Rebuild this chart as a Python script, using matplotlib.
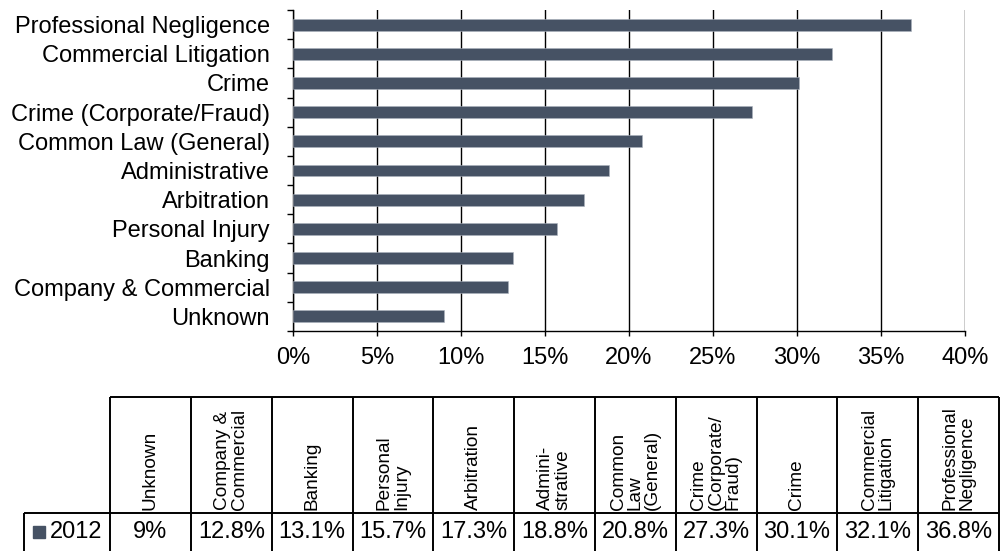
import matplotlib
matplotlib.use("Agg")
import matplotlib.pyplot as plt
import numpy as np

plt.rcParams['font.family'] = ['Liberation Sans', 'DejaVu Sans']

categories = ["Unknown", "Company & Commercial", "Banking", "Personal Injury",
              "Arbitration", "Administrative", "Common Law (General)",
              "Crime (Corporate/Fraud)", "Crime", "Commercial Litigation",
              "Professional Negligence"]
values = [9.0, 12.8, 13.1, 15.7, 17.3, 18.8, 20.8, 27.3, 30.1, 32.1, 36.8]
table_headers = ["Unknown", "Company &\nCommercial", "Banking", "Personal\nInjury",
                 "Arbitration", "Admini-\nstrative", "Common\nLaw\n(General)",
                 "Crime\n(Corporate/\nFraud)", "Crime", "Commercial\nLitigation",
                 "Professional\nNegligence"]
table_values = ["9%", "12.8%", "13.1%", "15.7%", "17.3%", "18.8%", "20.8%",
                "27.3%", "30.1%", "32.1%", "36.8%"]
series_name = "2012"
x_ticks = [0, 5, 10, 15, 20, 25, 30, 35, 40]

BAR = '#465264'
W, H = 1005, 551
fig = plt.figure(figsize=(W / 100, H / 100), dpi=100)

# ---- bar chart ----
ax = fig.add_axes([293 / W, (H - 331) / H, 672 / W, 321 / H])
y = np.arange(len(categories))
ax.barh(y, values, height=0.41, color=BAR, edgecolor='#aab1bd', linewidth=0.4, zorder=3)
ax.set_xlim(0, 40)
ax.set_ylim(-0.5, len(categories) - 0.5)
ax.set_xticks(x_ticks)
ax.set_xticklabels([f"{t}%" for t in x_ticks], fontsize=17)
ax.set_yticks(np.arange(len(categories) + 1) - 0.5)
ax.set_yticklabels([])
ax.set_yticks(y, minor=True)
ax.set_yticklabels(categories, minor=True, fontsize=17)
ax.tick_params(axis='y', which='major', direction='out', length=4.5, width=1, color='black')
ax.tick_params(axis='y', which='minor', length=0, pad=16.5)
ax.tick_params(axis='x', direction='out', length=3.6, width=1, color='black', pad=8)
ax.grid(axis='x', color='black', linewidth=1.0, zorder=1)
for s in ['top', 'right']:
    ax.spines[s].set_visible(False)
ax.spines['left'].set_linewidth(1.0)
ax.spines['bottom'].set_linewidth(1.0)

# ---- data table ----
label_w = 86 / 80.73
hdr_h = 116 / 38
tab = fig.add_axes([24 / W, 0, 975 / W, 154 / H])
tab.set_xlim(-label_w, len(categories))
tab.set_ylim(0, 1 + hdr_h)
tab.axis('off')
n = len(categories)
lw = 1.4
tab.hlines(1 + hdr_h, 0, n, color='black', lw=lw, clip_on=False)
tab.hlines(1, -label_w, n, color='black', lw=lw, clip_on=False)
tab.vlines(np.arange(n + 1), 0, 1 + hdr_h, color='black', lw=lw, clip_on=False)
tab.vlines(-label_w, 0, 1, color='black', lw=lw, clip_on=False)
for i, (h, v) in enumerate(zip(table_headers, table_values)):
    tab.text(i + 0.5, 1.07, h, rotation=90, ha='center', va='bottom',
             multialignment='left', fontsize=13.7, linespacing=1.02)
    tab.text(i + 0.5, 0.5, v, ha='center', va='center', fontsize=17)
tab.plot([-label_w + 14.5 / 80.73], [0.5], marker='s', ms=9, color=BAR, clip_on=False)
tab.text(-label_w + 26 / 80.73, 0.5, series_name, ha='left', va='center', fontsize=17)

fig.savefig("out.png", dpi=100)
